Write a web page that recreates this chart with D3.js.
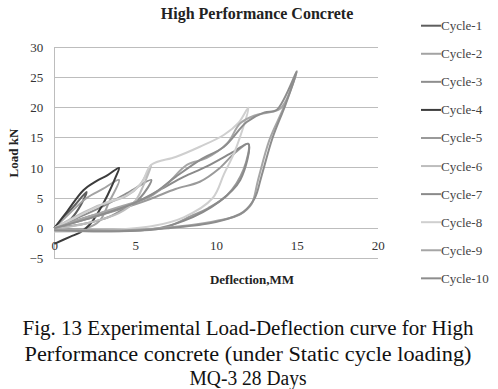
<!DOCTYPE html>
<html><head><meta charset="utf-8">
<script src="https://cdn.jsdelivr.net/npm/d3@7/dist/d3.min.js"></script>
<style>body{margin:0;background:#fff}svg{display:block}</style>
</head><body><svg id="c" width="498" height="389"></svg>
<script>
const seriesNames = ["Cycle-1","Cycle-2","Cycle-3","Cycle-4","Cycle-5","Cycle-6","Cycle-7","Cycle-8","Cycle-9","Cycle-10"];
const seriesColors = ["#5e5e5e","#a3a3a3","#8e8e8e","#3c3c3c","#9a9a9a","#bdbdbd","#8a8a8a","#cfcfcf","#a6a6a6","#8d8d8d"];
const cycle1 = [[0,0],[0.5,1.5],[1.2,3.6],[2,6],[1.5,3.2],[0.9,1.2],[0,0]];
const cycle2 = [[0,0],[1,2.6],[2,5],[3,6.5],[4,8],[3.4,4.4],[2.8,1.2],[2,0],[1,-0.3],[0,0]];
const cycle3 = [[0,0],[1.5,1.8],[3,3.6],[4.7,6.1],[6,8],[5.3,5],[4.7,3.9],[3.5,2],[2,0.8],[0,0]];
const cycle4 = [[0,0],[0.8,2.8],[1.8,6.3],[2.6,7.8],[3.3,8.8],[4,10],[3.8,8.5],[3.3,5.5],[2.8,3],[2.2,0.6],[1.6,-0.7],[1,-1.4],[0,-2.6]];
const cycle5 = [[0,0],[2,1.5],[3.9,3],[5.9,4.8],[7.5,6.5],[9,7.7],[10.2,9.9],[11.1,12.3],[12,14],[11.7,9.7],[10.7,5.5],[9.5,3.3],[8.6,2.2],[6.7,0],[4,-0.4],[0,0]];
const cycle6 = [[0,0],[1,1.5],[2.5,3.5],[4.5,5.4],[5.3,7.2],[6,10.5],[5.5,7],[5,4.5],[4,2.5],[2,0.8],[0,-0.2]];
const cycle7 = [[0,0],[2,1.8],[4.7,3.9],[6.5,6.3],[8,8.5],[9.4,10.2],[11.1,12.7],[12,14],[11.5,8],[10.2,4.4],[8,1.2],[6,-0.2],[3,-0.5],[0,-0.3]];
const cycle8 = [[0,0],[1.5,2],[3,4],[4.5,5.5],[5.4,7.5],[6,10.5],[7.5,11.8],[9,13.5],[10.5,15.5],[11.4,17.5],[12,20],[11.2,13],[10.5,9],[9.8,5],[8,1.8],[6,0.3],[3,-0.4],[0,-0.6]];
const cycle9 = [[0,0],[2,1.8],[4,3.5],[5.9,5.2],[7,7.4],[8.2,10.5],[9.4,11.6],[10.7,14.1],[11.5,17.4],[12.5,18.8],[14,19.9],[15,26],[14.2,20.1],[13.3,14.6],[12.6,8],[12.2,4],[11.5,2.3],[10.2,1.3],[7.8,0.3],[4.7,-0.3],[0,-0.2]];
const cycle10 = [[0,0],[2,1.5],[4,3.2],[6,5.5],[7.5,8.5],[9,11.3],[10.5,13.5],[11.9,17.6],[13,19.2],[13.75,19.6],[15,26],[14.3,20.5],[13.5,15],[12.8,8.5],[12.4,5],[11.7,2.7],[11,1.8],[9.6,0.8],[7,0],[4,-0.5],[0,-0.4]];
const cycles = [cycle1,cycle2,cycle3,cycle4,cycle5,cycle6,cycle7,cycle8,cycle9,cycle10];
const xTicks = [0,5,10,15,20];
const yTicks = [-5,0,5,10,15,20,25,30];
const chartTitle = "High Performance Concrete";
const xTitle = "Deflection,MM";
const yTitle = "Load kN";
const captionLines = ["Fig. 13 Experimental Load-Deflection curve for High","Performance concrete (under Static cycle loading)","MQ-3 28 Days"];

const SERIF = "Liberation Serif";
const svg = d3.select("#c");
const x = d3.scaleLinear().domain([0,20]).range([54.3,377.7]);
const y = d3.scaleLinear().domain([-5,30]).range([258.3,47.3]);

svg.append("g").selectAll("line").data(yTicks).join("line")
  .attr("x1",x(0)).attr("x2",x(20)).attr("y1",d=>y(d)).attr("y2",d=>y(d))
  .attr("stroke","#bdbdbd").attr("stroke-width",1).attr("shape-rendering","crispEdges");
svg.append("line").attr("x1",x(0)).attr("x2",x(0)).attr("y1",y(30)).attr("y2",y(-5))
  .attr("stroke","#bdbdbd").attr("shape-rendering","crispEdges");

const yAxis = d3.axisLeft(y).tickValues(yTicks).tickSize(0).tickPadding(11).tickFormat(d3.format("d"));
const gy = svg.append("g").attr("transform",`translate(${x(0)},0)`).call(yAxis);
gy.select(".domain").remove();
gy.selectAll("text").style("font-family",SERIF).style("font-size","13px").attr("fill","#333");

const xAxis = d3.axisBottom(x).tickValues(xTicks).tickSize(0).tickPadding(0).tickFormat(d3.format("d"));
const gx = svg.append("g").attr("transform",`translate(0,${y(0)+13})`).call(xAxis);
gx.select(".domain").remove();
gx.selectAll("text").style("font-family",SERIF).style("font-size","13px").attr("fill","#333");

const line = d3.line().x(d=>x(d[0])).y(d=>y(d[1])).curve(d3.curveCatmullRom.alpha(0.5));
svg.append("g").selectAll("path").data(cycles).join("path")
  .attr("d",line).attr("fill","none")
  .attr("stroke",(d,i)=>seriesColors[i]).attr("stroke-width",2).attr("stroke-linejoin","round");

svg.append("text").attr("x",257).attr("y",19).attr("text-anchor","middle")
  .style("font-family",SERIF).style("font-weight","bold").style("font-size","16px").attr("fill","#222").text(chartTitle);
svg.append("text").attr("x",252).attr("y",284).attr("text-anchor","middle")
  .style("font-family",SERIF).style("font-weight","bold").style("font-size","13px").attr("fill","#222").text(xTitle);
svg.append("text").attr("transform","translate(18,153) rotate(-90)").attr("text-anchor","middle")
  .style("font-family",SERIF).style("font-weight","bold").style("font-size","13px").attr("fill","#222").text(yTitle);

const lg = svg.append("g").selectAll("g").data(seriesNames).join("g")
  .attr("transform",(d,i)=>`translate(421,${25.7+i*28.07})`);
lg.append("line").attr("x1",0).attr("x2",20).attr("y1",0).attr("y2",0)
  .attr("stroke",(d,i)=>seriesColors[i]).attr("stroke-width",2);
lg.append("text").attr("x",20).attr("y",4.5).style("font-family",SERIF).style("font-size","13px")
  .attr("fill","#444").text(d=>d);

const capY = [335,361,385];
const capW = [451,447,117];
svg.append("g").selectAll("text").data(captionLines).join("text")
  .attr("x",248).attr("y",(d,i)=>capY[i]).attr("text-anchor","middle")
  .style("font-family",SERIF).style("font-size","20px").attr("fill","#111")
  .attr("textLength",(d,i)=>capW[i]).attr("lengthAdjust","spacingAndGlyphs").text(d=>d);
</script></body></html>
